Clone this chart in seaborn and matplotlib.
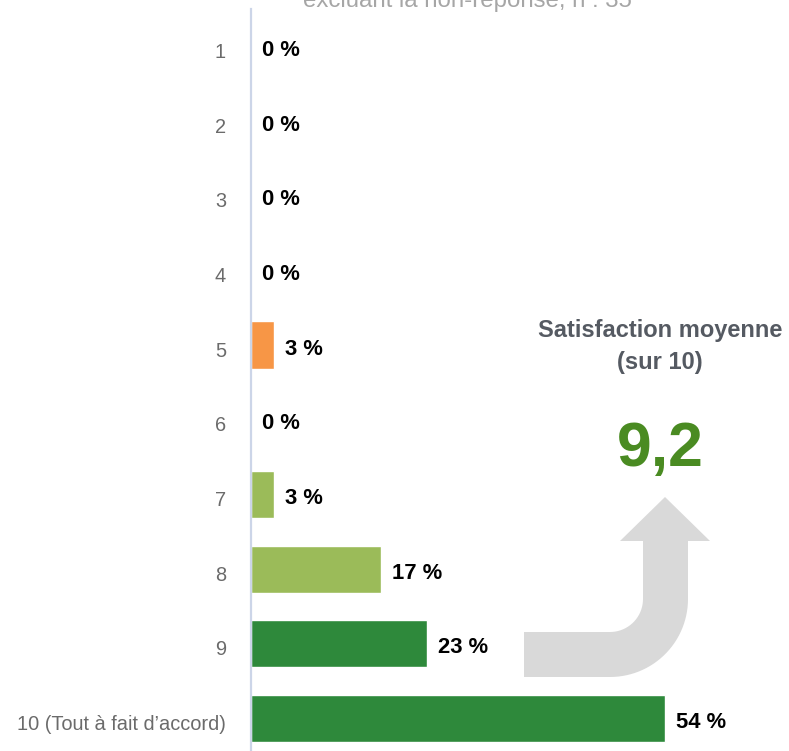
import numpy as np
import pandas as pd
import matplotlib
matplotlib.use("Agg")
import matplotlib.pyplot as plt
from matplotlib.path import Path
from matplotlib.patches import PathPatch
from matplotlib.transforms import Affine2D, ScaledTranslation
import seaborn as sns

# Répartition des notes de satisfaction (en %)
categories = ["1", "2", "3", "4", "5", "6", "7", "8", "9", "10 (Tout à fait d\u2019accord)"]
values = [0, 0, 0, 0, 3, 0, 3, 17, 23, 54]
bar_colors = ["#F79646", "#F79646", "#F79646", "#F79646", "#F79646",
              "#9BBB59", "#9BBB59", "#9BBB59", "#2E893B", "#2E893B"]
value_labels = [f"{v} %" for v in values]
subtitle = "excluant la non-réponse, n : 35"
score_title = ["Satisfaction moyenne", "(sur 10)"]
score_value = "9,2"

W, H = 789, 751
sns.set_theme(style="white")
plt.rcParams["font.family"] = ["Liberation Sans", "DejaVu Sans"]

fig = plt.figure(figsize=(W / 100, H / 100), dpi=100)
left_px, top_px, bottom_px = 251, 8.9, 755.8
ax = fig.add_axes([left_px / W, 1 - bottom_px / H, 1 - left_px / W, (bottom_px - top_px) / H])

df = pd.DataFrame({"note": categories, "pct": values})
sns.barplot(data=df, x="pct", y="note", hue="note", palette=bar_colors,
            legend=False, orient="h", width=0.63, ax=ax, saturation=1)

# Étiquettes de valeur, légèrement abaissées sous le centre des barres
for i, (v, lab) in enumerate(zip(values, value_labels)):
    ax.annotate(lab, xy=(v, i), xytext=(8, -3), textcoords="offset points",
                ha="left", va="center", fontsize=15.8, fontweight="bold",
                color="black")

ax.set_xlim(0, 70.2)
ax.set_ylim(9.5, -0.5)
ax.set_xlabel("")
ax.set_ylabel("")
ax.set_xticks([])
ax.tick_params(axis="y", length=0, pad=18, labelsize=14.4, labelcolor="#6B6B6B")
shift = ScaledTranslation(0, -3 / 72, fig.dpi_scale_trans)
for lbl in ax.get_yticklabels():
    lbl.set_transform(lbl.get_transform() + shift)
for side in ["top", "right", "bottom"]:
    ax.spines[side].set_visible(False)
ax.spines["left"].set_color("#CCD5E8")
ax.spines["left"].set_linewidth(1.6)

# Sous-titre partiellement visible en haut
fig.text(467 / W, 1 - 7 / H, subtitle, ha="center", va="baseline",
         fontsize=17.3, color="#A6A6A6")

# Encadré de la note moyenne
fig.text(660 / W, 1 - 331 / H, score_title[0], ha="center", va="center",
         fontsize=17, fontweight="bold", color="#555A62")
fig.text(660 / W, 1 - 362 / H, score_title[1], ha="center", va="center",
         fontsize=17, fontweight="bold", color="#555A62")
fig.text(660 / W, 1 - 450 / H, score_value, ha="center", va="center",
         fontsize=45, fontweight="bold", color="#4A8B22")

# Flèche courbe grise (coordonnées en pixels, origine en haut à gauche)
px = Affine2D().scale(1 / W, -1 / H).translate(0, 1) + fig.transFigure
cx, cy, r_in, r_out = 610, 599, 33, 78
t_in = np.linspace(np.pi / 2, 0, 20)
t_out = np.linspace(0, np.pi / 2, 30)
pts = [(524, cy + r_in)]
pts += [(cx + r_in * np.cos(t), cy + r_in * np.sin(t)) for t in t_in]
pts += [(643, 541), (620, 541), (665, 497), (710, 541), (688, 541)]
pts += [(cx + r_out * np.cos(t), cy + r_out * np.sin(t)) for t in t_out]
pts += [(524, cy + r_out), (524, cy + r_in)]
codes = [Path.MOVETO] + [Path.LINETO] * (len(pts) - 2) + [Path.CLOSEPOLY]
arrow = PathPatch(Path(pts, codes), transform=px, facecolor="#D9D9D9",
                  edgecolor="none", zorder=0)
fig.patches.append(arrow)

fig.savefig("out.png", dpi=100)
